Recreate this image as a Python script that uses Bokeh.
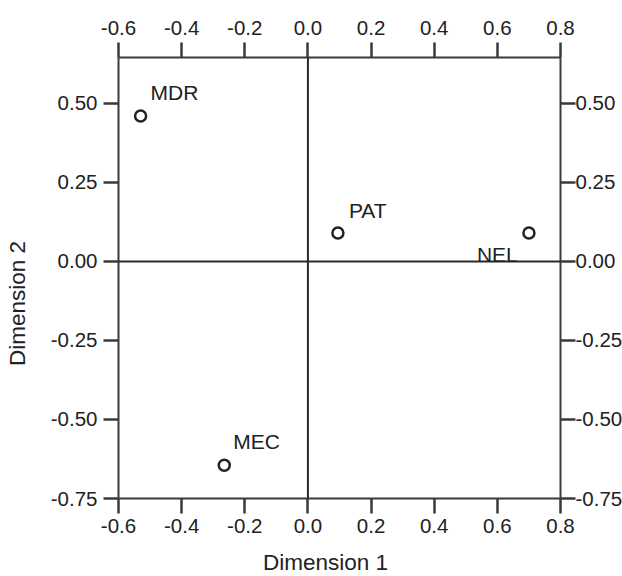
from bokeh.plotting import figure
from bokeh.models import (LinearAxis, FixedTicker, NumeralTickFormatter, Span, Label,
                          ColumnDataSource, Range1d)
from bokeh.embed import file_html
from bokeh.resources import INLINE

# ---- data ----
names = ["MDR", "PAT", "NEL", "MEC"]
dim1 = [-0.53, 0.095, 0.70, -0.265]
dim2 = [0.46, 0.09, 0.09, -0.645]
x_ticks = [-0.6, -0.4, -0.2, 0.0, 0.2, 0.4, 0.6, 0.8]
y_ticks = [-0.75, -0.50, -0.25, 0.0, 0.25, 0.50]
x_title = "Dimension 1"
y_title = "Dimension 2"

# label placement (screen px relative to point): style only
label_offsets = {"MDR": (10, 23), "PAT": (11, 22), "NEL": (-52, -22), "MEC": (9, 24)}

FONT = "Liberation Sans"
TXT = "#222222"
AX = "#3a3a3a"

p = figure(frame_width=442, frame_height=441,
           x_range=Range1d(-0.6, 0.8), y_range=Range1d(-0.75, 0.645),
           output_backend="svg", toolbar_location=None,
           min_border_left=118, min_border_right=62,
           min_border_top=57, min_border_bottom=78,
           x_axis_location=None, y_axis_location=None)
p.grid.visible = False
p.outline_line_color = None
p.background_fill_color = "white"
p.border_fill_color = "white"


def style_axis(ax, ticks, fmt, standoff):
    ax.ticker = FixedTicker(ticks=ticks)
    ax.formatter = NumeralTickFormatter(format=fmt)
    ax.axis_line_color = AX
    ax.axis_line_width = 2
    ax.major_tick_line_color = AX
    ax.major_tick_line_width = 2.5
    ax.major_tick_out = 15
    ax.major_tick_in = 0
    ax.minor_tick_line_color = None
    ax.major_label_text_font = FONT
    ax.major_label_text_font_size = "20.5px"
    ax.major_label_text_color = TXT
    ax.major_label_standoff = standoff


bottom = LinearAxis()
top = LinearAxis()
left = LinearAxis()
right = LinearAxis()
style_axis(bottom, x_ticks, "0.0", 5)
style_axis(top, x_ticks, "0.0", 8)
style_axis(left, y_ticks, "0.00", 6)
style_axis(right, y_ticks, "0.00", 0)
p.add_layout(bottom, "below")
p.add_layout(top, "above")
p.add_layout(left, "left")
p.add_layout(right, "right")

p.add_layout(Span(location=0, dimension="height", line_color="#2a2a2a", line_width=2))
p.add_layout(Span(location=0, dimension="width", line_color="#2a2a2a", line_width=2))

src = ColumnDataSource(dict(x=dim1, y=dim2, name=names))
p.scatter("x", "y", source=src, size=11, marker="circle",
          fill_color="white", line_color="#222222", line_width=2.5)

for n, xv, yv in zip(names, dim1, dim2):
    dx, dy = label_offsets[n]
    p.add_layout(Label(x=xv, y=yv, text=n, x_offset=dx, y_offset=dy,
                       text_font=FONT, text_font_size="21px", text_color=TXT,
                       text_align="left", text_baseline="alphabetic"))

# axis titles as labels in the side panels
p.add_layout(Label(x=207, y=-2, x_units="screen", y_units="screen", text=x_title,
                   text_font=FONT, text_font_size="22.5px", text_color=TXT,
                   text_align="center", text_baseline="alphabetic"), "below")
p.add_layout(Label(x=-5, y=195, x_units="screen", y_units="screen", text=y_title,
                   angle=1.5707963, text_font=FONT, text_font_size="22.5px", text_color=TXT,
                   text_align="center", text_baseline="alphabetic"), "left")

open("out.html", "w").write(file_html(p, INLINE))
